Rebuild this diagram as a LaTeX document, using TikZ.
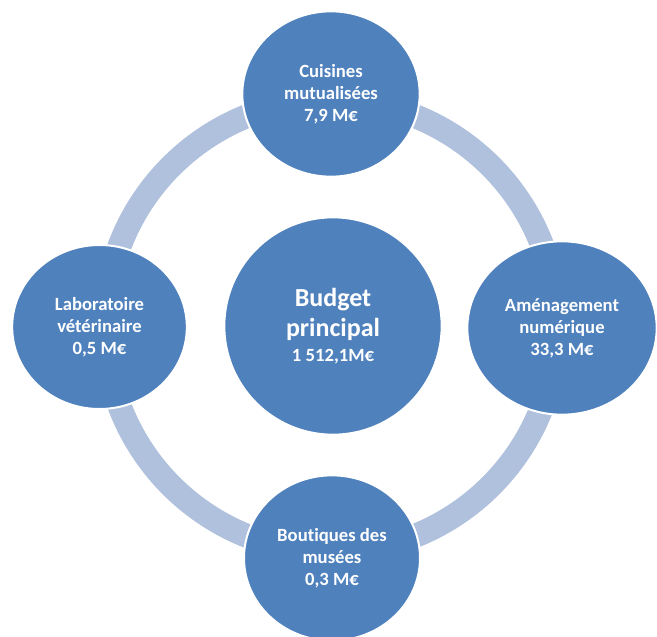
\documentclass[tikz,border=0pt]{standalone}
\usepackage{fontspec}
\setmainfont[Ligatures=NoCommon]{Carlito}
\usetikzlibrary{shapes.geometric}
\definecolor{circblue}{HTML}{4F81BD}
\definecolor{ringblue}{HTML}{B0C1DD}
\begin{document}
\begin{tikzpicture}[x=0.75pt,y=-0.75pt,
  sat/.style={ellipse, fill=circblue, draw=white, line width=1.5pt, text=white,
    align=center, font=\bfseries\fontsize{14}{16.5}\selectfont, inner sep=0pt},
  ringline/.style={draw=ringblue, line width=18pt}]
\useasboundingbox (0,0) rectangle (657,636);
\coordinate (ringc) at (331,326);
\draw[ringline] (ringc) circle[radius=169.5pt];
\node[sat, minimum width=133pt, minimum height=124pt] (cuisines) at (331,94)
  {Cuisines\\mutualisées\\7,9 M€};
\node[sat, minimum width=131pt, minimum height=123pt] (labo) at (99.5,327)
  {Laboratoire\\vétérinaire\\0,5 M€};
\node[sat, minimum width=142pt, minimum height=130pt] (amenag) at (562,328)
  {Aménagement\\numérique\\33,3 M€};
\node[sat, minimum width=132pt, minimum height=124pt] (boutiques) at (332,558)
  {Boutiques des\\musées\\0,3 M€};
\node[sat, minimum width=163pt, minimum height=163pt,
  font=\bfseries\fontsize{14}{22.5}\selectfont] (budget) at (333,326)
  {\fontsize{19.5}{22.5}\selectfont Budget\\
   \fontsize{19.5}{22.5}\selectfont principal\\[-3.5pt]
   \fontsize{14}{16.5}\selectfont 1 512,1M€};
\end{tikzpicture}
\end{document}
